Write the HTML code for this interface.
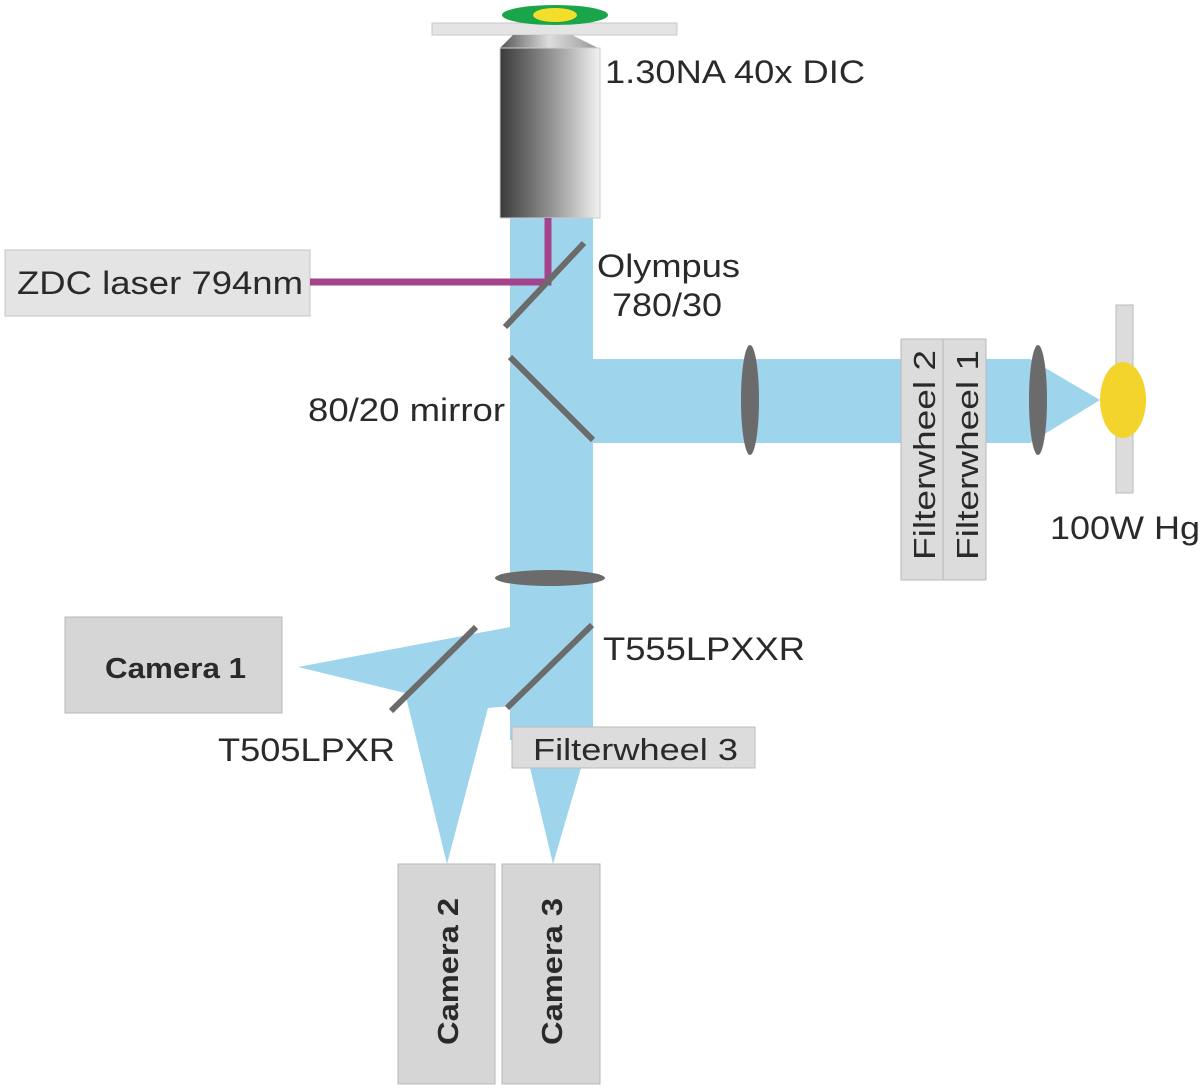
<!DOCTYPE html>
<html><head><meta charset="utf-8"><style>
html,body{margin:0;padding:0;background:#fff}
svg{display:block}
text{font-family:"Liberation Sans",sans-serif;fill:#2a2a2a}
</style></head><body>
<svg width="1200" height="1088" viewBox="0 0 1200 1088" xmlns="http://www.w3.org/2000/svg">
<defs>
<linearGradient id="obj" x1="0" x2="1" y1="0" y2="0">
<stop offset="0" stop-color="#3a3a3a"/><stop offset="0.55" stop-color="#9a9a9a"/><stop offset="1" stop-color="#f2f2f2"/>
</linearGradient>
<linearGradient id="cap" x1="0" x2="1"><stop offset="0" stop-color="#555"/><stop offset="0.5" stop-color="#ddd"/><stop offset="1" stop-color="#999"/></linearGradient>
</defs>
<g fill="#9fd5ec">
<rect x="510" y="218" width="83" height="522"/>
<polygon points="593,359 1030,359 1100,400 1030,443 593,443"/>
<polygon points="510,627 298,667 405,693 447,864 488,708 512,706"/>
<polygon points="515,705 593,705 593,727 553,864"/>
</g>
<rect x="432" y="23" width="245" height="12" fill="#e4e4e4" stroke="#c8c8c8"/>
<ellipse cx="555" cy="15" rx="53" ry="10" fill="#1aa54a"/>
<ellipse cx="555" cy="15" rx="22" ry="7" fill="#f3df2b"/>
<polygon points="513,35 572,35 598,48 500,48" fill="url(#cap)"/>
<rect x="500" y="48" width="100" height="170" fill="url(#obj)" stroke="#ccc"/>
<rect x="5" y="250" width="305" height="66" fill="#e4e4e4" stroke="#c4c4c4"/>
<text x="17" y="294" font-size="32" textLength="286" lengthAdjust="spacingAndGlyphs">ZDC laser 794nm</text>
<polyline points="310,282 548,282 548,218" fill="none" stroke="#a3438b" stroke-width="7"/>
<g stroke="#6b6b6b" stroke-width="6">
<line x1="505" y1="327" x2="584" y2="243"/>
<line x1="510" y1="357" x2="593" y2="440"/>
<line x1="391" y1="711" x2="476" y2="627"/>
<line x1="507" y1="708" x2="592" y2="625"/>
</g>
<ellipse cx="550" cy="578" rx="55" ry="8" fill="#6b6b6b"/>
<ellipse cx="750" cy="400" rx="9" ry="55" fill="#6b6b6b"/>
<ellipse cx="1038" cy="400" rx="9" ry="55" fill="#6b6b6b"/>
<rect x="901" y="339" width="42" height="241" fill="#dcdcdc" stroke="#b8b8b8"/>
<rect x="943" y="339" width="43" height="241" fill="#dcdcdc" stroke="#b8b8b8"/>
<text transform="translate(935,560) rotate(-90)" font-size="31" textLength="210" lengthAdjust="spacingAndGlyphs">Filterwheel 2</text>
<text transform="translate(978,560) rotate(-90)" font-size="31" textLength="210" lengthAdjust="spacingAndGlyphs">Filterwheel 1</text>
<rect x="1116" y="305" width="17" height="188" fill="#dcdcdc" stroke="#bbb"/>
<ellipse cx="1123" cy="400" rx="23" ry="38" fill="#f3d42c"/>
<text x="1050" y="539" font-size="32" textLength="150" lengthAdjust="spacingAndGlyphs">100W Hg</text>
<rect x="65" y="617" width="217" height="96" fill="#d6d6d6" stroke="#b8b8b8"/>
<text x="105" y="678" font-size="29" font-weight="bold" textLength="141" lengthAdjust="spacingAndGlyphs">Camera 1</text>
<rect x="398" y="864" width="97" height="220" fill="#d6d6d6" stroke="#b8b8b8"/>
<rect x="502" y="864" width="98" height="220" fill="#d6d6d6" stroke="#b8b8b8"/>
<text transform="translate(458,1045) rotate(-90)" font-size="29" font-weight="bold" textLength="147" lengthAdjust="spacingAndGlyphs">Camera 2</text>
<text transform="translate(562,1045) rotate(-90)" font-size="29" font-weight="bold" textLength="147" lengthAdjust="spacingAndGlyphs">Camera 3</text>
<rect x="512" y="727" width="243" height="41" fill="#dcdcdc" stroke="#bbb"/>
<text x="533" y="760" font-size="31" textLength="205" lengthAdjust="spacingAndGlyphs">Filterwheel 3</text>
<text x="605" y="83" font-size="32" textLength="260" lengthAdjust="spacingAndGlyphs">1.30NA 40x DIC</text>
<text x="597" y="277" font-size="32" textLength="143" lengthAdjust="spacingAndGlyphs">Olympus</text>
<text x="612" y="316" font-size="32" textLength="110" lengthAdjust="spacingAndGlyphs">780/30</text>
<text x="308" y="421" font-size="32" textLength="197" lengthAdjust="spacingAndGlyphs">80/20 mirror</text>
<text x="603" y="660" font-size="32" textLength="202" lengthAdjust="spacingAndGlyphs">T555LPXXR</text>
<text x="218" y="761" font-size="32" textLength="177" lengthAdjust="spacingAndGlyphs">T505LPXR</text>
</svg>
</body></html>
